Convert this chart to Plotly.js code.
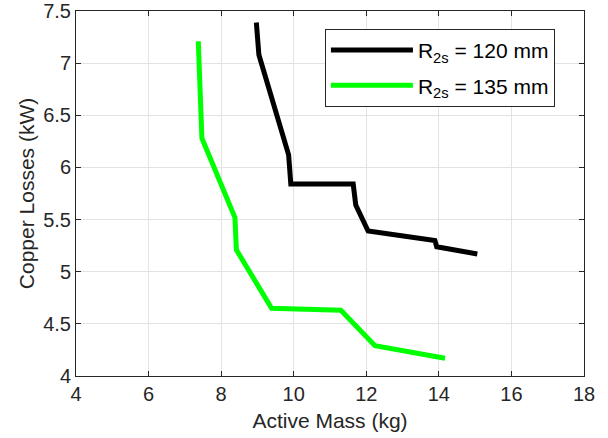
<!DOCTYPE html>
<html>
<head>
<meta charset="utf-8">
<script src="https://cdn.plot.ly/plotly-3.0.1.min.js"></script>
<style>html,body{margin:0;padding:0;background:#fff;}#chart{width:608px;height:438px;}</style>
</head>
<body>
<div id="chart"></div>
<script>
// Series: R2s = 120 mm (black)
const mass120 = [8.97, 9.04, 9.86, 9.92, 11.64, 11.71, 12.05, 13.89, 13.94, 15.06];
const loss120 = [7.39, 7.08, 6.12, 5.84, 5.84, 5.64, 5.39, 5.30, 5.24, 5.17];
// Series: R2s = 135 mm (green)
const mass135 = [7.37, 7.47, 8.38, 8.42, 9.39, 11.30, 12.24, 14.17];
const loss135 = [7.21, 6.28, 5.52, 5.21, 4.65, 4.63, 4.29, 4.17];
const seriesNames = ['R<sub>2s</sub> = 120 mm', 'R<sub>2s</sub> = 135 mm'];
const xTicks = [4, 6, 8, 10, 12, 14, 16, 18];
const yTicks = [4, 4.5, 5, 5.5, 6, 6.5, 7, 7.5];

const font = 'Liberation Sans, Arial, Helvetica, sans-serif';
const axisCol = '#262626';

const traces = [
  {x: mass120, y: loss120, name: seriesNames[0], legendgroup: 'a', mode: 'lines', type: 'scatter',
   line: {color: '#000000', width: 5}},
  {x: mass135, y: loss135, name: seriesNames[1], legendgroup: 'b', mode: 'lines', type: 'scatter',
   line: {color: '#00ff00', width: 5}}
];

const axisCommon = {
  showline: true, mirror: 'ticks', linecolor: axisCol, linewidth: 1,
  ticks: 'inside', ticklen: 5, tickcolor: axisCol, tickwidth: 1,
  showgrid: true, gridcolor: '#e3e3e3', gridwidth: 1,
  zeroline: false,
  tickfont: {family: font, size: 20, color: axisCol}
};

const layout = {
  width: 608, height: 438,
  margin: {l: 76, r: 24, t: 11, b: 62},
  paper_bgcolor: '#ffffff', plot_bgcolor: '#ffffff',
  showlegend: true,
  xaxis: Object.assign({}, axisCommon, {
    range: [4, 18], tickvals: xTicks, ticktext: xTicks.map(String),
    title: {text: 'Active Mass (kg)', font: {family: font, size: 21, color: axisCol}, standoff: 9}
  }),
  yaxis: Object.assign({}, axisCommon, {
    range: [4, 7.5], tickvals: yTicks, ticktext: yTicks.map(String),
    title: {text: 'Copper Losses (kW)', font: {family: font, size: 21, color: axisCol}, standoff: 2}
  }),
  legend: {
    x: 0.49, y: 0.951, xanchor: 'left', yanchor: 'top',
    bgcolor: '#ffffff', bordercolor: axisCol, borderwidth: 1,
    font: {family: font, size: 21, color: '#000000'},
    itemwidth: 82, tracegroupgap: 5
  }
};

Plotly.newPlot('chart', traces, layout, {displayModeBar: false, staticPlot: true});
</script>
</body>
</html>
